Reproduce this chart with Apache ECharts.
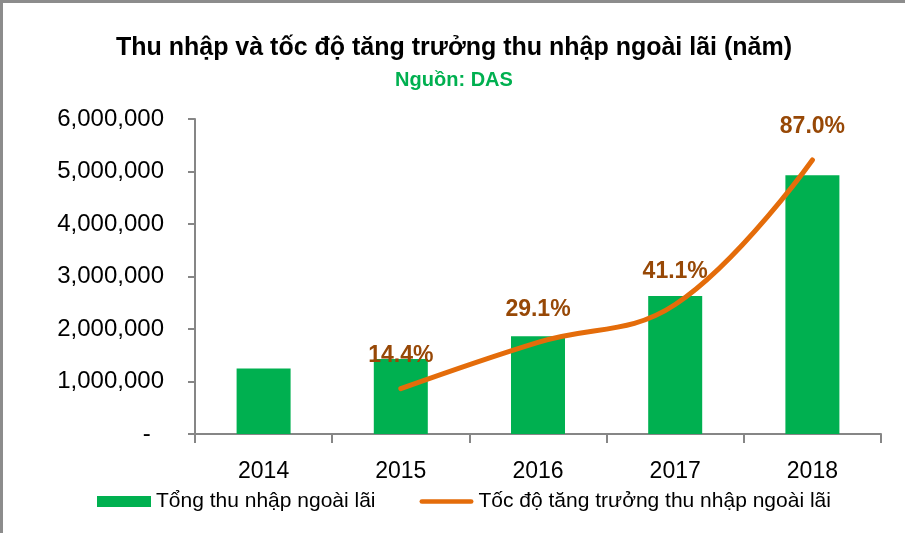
<!DOCTYPE html>
<html>
<head>
<meta charset="utf-8">
<script src="https://cdn.jsdelivr.net/npm/echarts@6/dist/echarts.min.js"></script>
<style>
  html, body { margin: 0; padding: 0; background: #fff; }
  #main { width: 905px; height: 533px; box-sizing: border-box; border-top: 3px solid #8c8c8c; border-left: 3px solid #8c8c8c; }
</style>
</head>
<body>
<div id="main"></div>
<script>
// năm
var years = ['2014', '2015', '2016', '2017', '2018'];
// Tổng thu nhập ngoài lãi
var incomeValues = [1250000, 1430000, 1860000, 2630000, 4930000];
// Tốc độ tăng trưởng (%), 2014 không có
var growthValues = [null, 14.4, 29.1, 41.1, 87.0];

var myChart = echarts.init(document.getElementById('main'));

var option = {
  animation: false,
  title: [
    {
      text: 'Thu nhập và tốc độ tăng trưởng thu nhập ngoài lãi (năm)',
      left: 'center',
      top: 28,
      textStyle: { fontFamily: 'Liberation Sans', fontWeight: 'bold', fontSize: 25, color: '#000' }
    },
    {
      text: 'Nguồn: DAS',
      left: 'center',
      top: 62,
      textStyle: { fontFamily: 'Liberation Sans', fontWeight: 'bold', fontSize: 20, color: '#00B050' }
    }
  ],
  legend: {
    bottom: 16,
    left: 89,
    itemWidth: 54,
    itemHeight: 11,
    itemGap: 44,
    textStyle: { fontFamily: 'Liberation Sans', fontSize: 21, color: '#000' },
    data: [
      { name: 'Tổng thu nhập ngoài lãi', icon: 'rect' },
      { name: 'Tốc độ tăng trưởng thu nhập ngoài lãi', icon: 'path://M0,0 M2,3 L54,3 A2.5,2.5 0 0 1 54,8 L2,8 A2.5,2.5 0 0 1 2,3 Z M56,11' }
    ]
  },
  grid: { left: 192, right: 24, top: 116, bottom: 99, containLabel: false },
  xAxis: {
    type: 'category',
    data: years,
    boundaryGap: true,
    axisLine: { lineStyle: { color: '#868686', width: 2 } },
    axisTick: { show: true, length: 9, lineStyle: { color: '#868686', width: 2 } },
    axisLabel: { margin: 26, color: '#000', fontFamily: 'Liberation Sans', fontSize: 23 }
  },
  yAxis: [
    {
      type: 'value',
      min: 0,
      max: 6000000,
      interval: 1000000,
      splitLine: { show: false },
      axisLine: { show: true, lineStyle: { color: '#868686', width: 2 } },
      axisTick: { show: true, length: 7, lineStyle: { color: '#868686', width: 2 } },
      axisLabel: {
        margin: 31,
        color: '#000',
        fontFamily: 'Liberation Sans',
        fontSize: 24,
        formatter: function (v) {
          if (v === 0) return '-  ';
          return v.toLocaleString('en-US');
        }
      }
    },
    {
      type: 'value',
      min: 0,
      max: 100,
      show: false,
      splitLine: { show: false }
    }
  ],
  series: [
    {
      name: 'Tổng thu nhập ngoài lãi',
      type: 'bar',
      data: incomeValues,
      barWidth: 54,
      itemStyle: { color: '#00B050' }
    },
    {
      name: 'Tốc độ tăng trưởng thu nhập ngoài lãi',
      type: 'line',
      yAxisIndex: 1,
      data: growthValues,
      smooth: 0.4,
      symbol: 'circle',
      symbolSize: 1,
      showSymbol: true,
      lineStyle: { color: '#E46C0A', width: 5, cap: 'round' },
      itemStyle: { color: '#E46C0A' },
      label: {
        show: true,
        position: 'top',
        distance: 21,
        color: '#974806',
        fontFamily: 'Liberation Sans',
        fontWeight: 'bold',
        fontSize: 23,
        formatter: function (p) { return p.value.toFixed(1) + '%'; }
      }
    }
  ]
};

option && myChart.setOption(option);
</script>
</body>
</html>
